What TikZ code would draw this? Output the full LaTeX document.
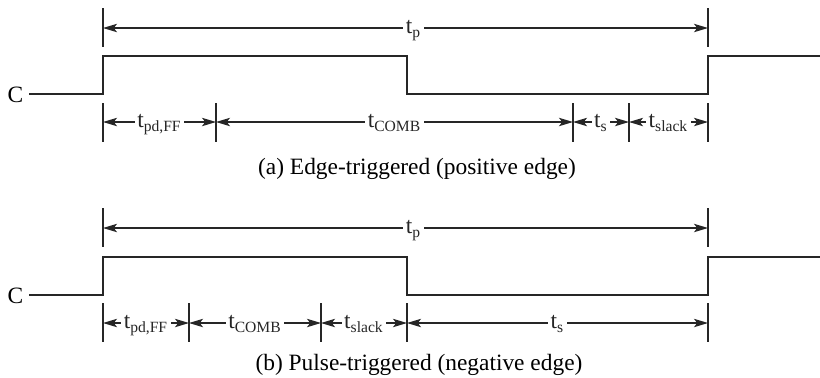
\documentclass[tikz,border=0pt]{standalone}
\usepackage{fontspec}
\setmainfont{Liberation Serif}
\usetikzlibrary{arrows.meta,positioning}
\newcommand\tsub[1]{\textsubscript{\fontsize{7.8}{8}\selectfont #1}}

\begin{document}
\begin{tikzpicture}[
  x=0.5pt, y=-0.5pt,
  >={Stealth[length=7pt, width=4.2pt, inset=1.6pt]}, font=\fontsize{11.7}{13}\selectfont,
  wave/.style={line width=0.95pt, black!85, line join=miter},
  tick/.style={line width=0.7pt, black!85},
  dim/.style={<->, line width=0.6pt, black!85},
  lbl/.style={fill=white, inner sep=1.2pt, anchor=base, yshift=-2.8pt},
  caption/.style={anchor=base, inner sep=0pt},
]
  \useasboundingbox (0,0) rectangle (820,377);

  % (a) edge-triggered
  \node[inner sep=0pt] (Ca) at (15.5,94.5) {C};
  \draw[wave] (29,94) -- (103,94) -- (103,56) -- (407,56) -- (407,94) -- (708,94) -- (708,56) -- (820,56);
  \foreach \x in {103,708} \draw[tick] (\x,8) -- (\x,47);
  \foreach \x in {103,216,573,629,708} \draw[tick] (\x,103) -- (\x,142);
  \coordinate (a-tp-l) at (103,28);
  \coordinate (a-tp-r) at (708,28);
  \coordinate (a-t0) at (103,122);
  \coordinate (a-t1) at (216,122);
  \coordinate (a-t2) at (573,122);
  \coordinate (a-t3) at (629,122);
  \coordinate (a-t4) at (708,122);
  \draw[dim] (a-tp-l) -- node[lbl, xshift=4pt]{t\tsub{p}} (a-tp-r);
  \draw[dim] (a-t0) -- node[lbl]{t\tsub{pd,FF}} (a-t1);
  \draw[dim] (a-t1) -- node[lbl]{t\tsub{COMB}} (a-t2);
  \draw[dim] (a-t2) -- node[lbl]{t\tsub{s}} (a-t3);
  \draw[dim] (a-t3) -- node[lbl]{t\tsub{slack}} (a-t4);
  \node[caption] (capa) at (417,174) {(a) Edge-triggered (positive edge)};

  % (b) pulse-triggered
  \node[inner sep=0pt] (Cb) at (15.5,295.5) {C};
  \draw[wave] (29,295) -- (103,295) -- (103,257) -- (407,257) -- (407,295) -- (708,295) -- (708,257) -- (820,257);
  \foreach \x in {103,708} \draw[tick] (\x,208) -- (\x,247);
  \foreach \x in {103,189,321,407,708} \draw[tick] (\x,303) -- (\x,342);
  \coordinate (b-tp-l) at (103,228);
  \coordinate (b-tp-r) at (708,228);
  \coordinate (b-t0) at (103,323);
  \coordinate (b-t1) at (189,323);
  \coordinate (b-t2) at (321,323);
  \coordinate (b-t3) at (407,323);
  \coordinate (b-t4) at (708,323);
  \draw[dim] (b-tp-l) -- node[lbl, xshift=4pt]{t\tsub{p}} (b-tp-r);
  \draw[dim] (b-t0) -- node[lbl]{t\tsub{pd,FF}} (b-t1);
  \draw[dim] (b-t1) -- node[lbl]{t\tsub{COMB}} (b-t2);
  \draw[dim] (b-t2) -- node[lbl]{t\tsub{slack}} (b-t3);
  \draw[dim] (b-t3) -- node[lbl]{t\tsub{s}} (b-t4);
  \node[caption] (capb) at (419,370) {(b) Pulse-triggered (negative edge)};
\end{tikzpicture}
\end{document}
